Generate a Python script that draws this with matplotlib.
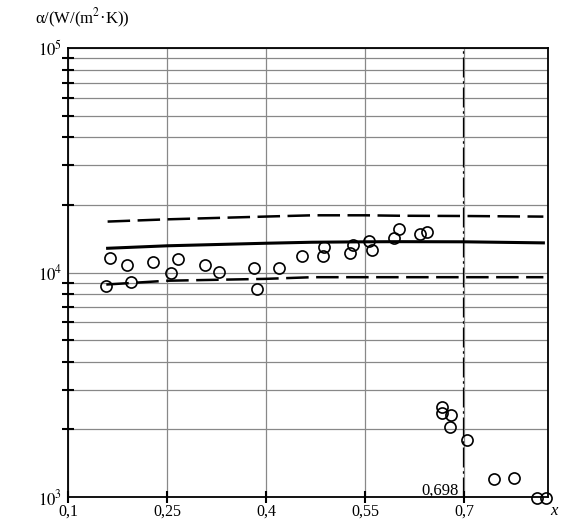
import matplotlib
matplotlib.use("Agg")
import matplotlib.pyplot as plt
from matplotlib.ticker import FixedLocator, NullFormatter, FixedFormatter, LogLocator

plt.rcParams['font.family'] = ['Liberation Serif', 'DejaVu Serif']
plt.rcParams['mathtext.fontset'] = 'stix'

# measured points
pts_x = [0.158, 0.163, 0.189, 0.195, 0.228, 0.256, 0.266, 0.307, 0.328, 0.382, 0.386,
         0.419, 0.455, 0.486, 0.487, 0.527, 0.531, 0.556, 0.561, 0.593, 0.602, 0.633,
         0.644, 0.667, 0.667, 0.680, 0.679, 0.704, 0.745, 0.776, 0.811, 0.824]
pts_y = [8750, 11620, 10850, 9030, 11190, 9900, 11460, 10770, 10070, 10450, 8430,
         10450, 11810, 11860, 13050, 12230, 13310, 13870, 12650, 14260, 15630, 14860,
         15100, 2517, 2376, 2329, 2051, 1790, 1206, 1213, 993, 993]

# calculated curve and +/- bounds
curve_x = [0.16, 0.25, 0.40, 0.47, 0.55, 0.60, 0.70, 0.82]
curve_y = [12820, 13150, 13500, 13640, 13700, 13720, 13700, 13550]
upper_x = [0.16, 0.25, 0.40, 0.47, 0.55, 0.60, 0.70, 0.82]
upper_y = [16860, 17250, 17750, 17980, 17980, 17900, 17850, 17740]
lower_x = [0.158, 0.25, 0.40, 0.47, 0.55, 0.60, 0.70, 0.82]
lower_y = [8840, 9190, 9370, 9530, 9530, 9530, 9530, 9530]

x_crit = 0.698
x_ticks = [0.1, 0.25, 0.4, 0.55, 0.7]
x_labels = ['0,1', '0,25', '0,4', '0,55', '0,7']

fig = plt.figure(figsize=(5.68, 5.2), dpi=100)
ax = fig.add_axes([68/568, 1-497/520, (548-68)/568, (497-48)/520])
ax.set_yscale('log')
ax.set_xlim(0.1, 0.827)
ax.set_ylim(1e3, 1e5)

# grid
ax.xaxis.set_major_locator(FixedLocator(x_ticks))
ax.xaxis.set_major_formatter(FixedFormatter(x_labels))
ax.yaxis.set_major_locator(FixedLocator([1e3, 1e4, 1e5]))
ax.yaxis.set_major_formatter(FixedFormatter(['$10^3$', '$10^4$', '$10^5$']))
ax.yaxis.set_minor_locator(LogLocator(base=10, subs=range(2, 10)))
ax.yaxis.set_minor_formatter(NullFormatter())
ax.grid(True, which='both', axis='y', color='#888888', lw=0.9)
ax.grid(True, which='major', axis='x', color='#888888', lw=0.9)
ax.set_axisbelow(True)

ax.tick_params(axis='x', which='major', direction='inout', length=9, width=1.5,
               labelsize=11.5, pad=0)
ax.tick_params(axis='y', which='both', direction='inout', length=9, width=1.5,
               labelsize=12, pad=4)
ax.tick_params(axis='y', which='major', length=0)
for s in ax.spines.values():
    s.set_linewidth(1.3)

ax.plot(upper_x, upper_y, color='black', lw=1.8, dashes=(9, 3))
ax.plot(curve_x, curve_y, color='black', lw=2.2)
ax.plot(lower_x, lower_y, color='black', lw=1.8, dashes=(9, 3))
ax.axvline(x_crit, color='black', lw=0.9, dashes=(16, 3, 2, 3))
ax.plot(pts_x, pts_y, 'o', ms=8, mfc='none', mec='black', mew=1.2, clip_on=False)

ax.text(x_crit - 0.006, 1070, '0,698', fontsize=12, ha='right', va='center')
fig.text(554/568, 1-511/520, 'x', fontsize=12, style='italic', ha='center', va='center')
fig.text(35/568, 1-18/520, 'α/(W/(m$^2$·K))', fontsize=12, ha='left', va='center')

fig.savefig('out.png', dpi=100)
